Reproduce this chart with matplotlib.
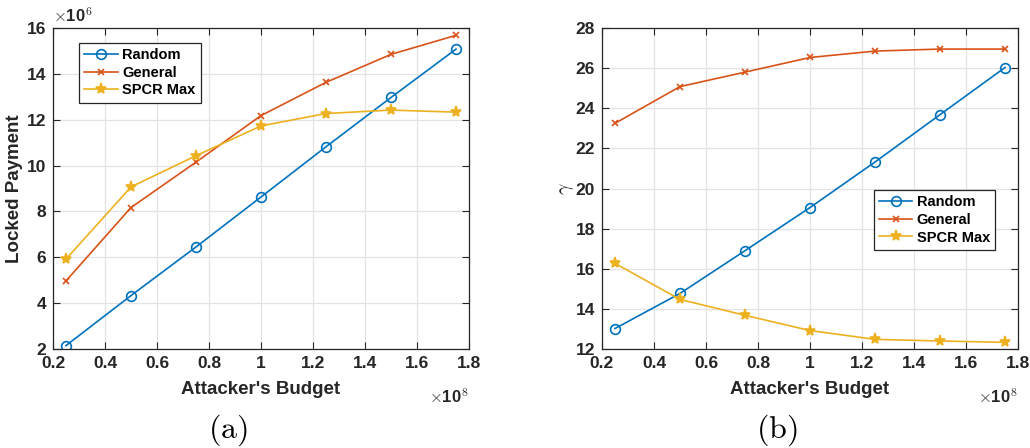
import matplotlib; matplotlib.use("Agg")
import matplotlib.pyplot as plt

budget = [0.25, 0.5, 0.75, 1.0, 1.25, 1.5, 1.75]  # x1e8

locked_random = [2.15, 4.33, 6.45, 8.63, 10.82, 12.97, 15.08]  # x1e6
locked_general = [4.97, 8.17, 10.15, 12.18, 13.63, 14.85, 15.68]
locked_spcr = [5.92, 9.07, 10.43, 11.73, 12.27, 12.42, 12.33]

gamma_random = [13.02, 14.77, 16.9, 19.05, 21.32, 23.68, 26.03]
gamma_general = [23.25, 25.08, 25.8, 26.53, 26.85, 26.95, 26.95]
gamma_spcr = [16.27, 14.47, 13.68, 12.92, 12.48, 12.40, 12.33]

labels = ["Random", "General", "SPCR Max"]
colors = ["#0072BD", "#D95319", "#EDB120"]
markers = ["o", "x", "*"]
msizes = [7, 5, 8]

plt.rcParams["font.family"] = ["Liberation Sans", "DejaVu Sans"]
plt.rcParams["font.weight"] = "bold"
plt.rcParams["mathtext.fontset"] = "cm"

fig = plt.figure(figsize=(10.3, 4.48), dpi=100)
W, H = 1030, 448
ax_a = fig.add_axes([53 / W, 1 - 349 / H, 416 / W, 321 / H])
ax_b = fig.add_axes([602 / W, 1 - 349 / H, 416 / W, 321 / H])


def style(ax, yticks):
    ax.set_xlim(0.2, 1.8)
    ax.set_xticks([0.2, 0.4, 0.6, 0.8, 1, 1.2, 1.4, 1.6, 1.8])
    ax.set_xticklabels(["0.2", "0.4", "0.6", "0.8", "1", "1.2", "1.4", "1.6", "1.8"])
    ax.set_ylim(yticks[0], yticks[-1])
    ax.set_yticks(yticks)
    ax.grid(True, color="#e3e3e3", lw=0.9)
    ax.set_axisbelow(True)
    ax.tick_params(direction="in", top=True, right=True, labelsize=12.5,
                   colors="#262626", length=5, width=0.8, pad=5)
    for lbl in ax.get_xticklabels() + ax.get_yticklabels():
        lbl.set_fontweight("bold")
    for s in ax.spines.values():
        s.set_color("#262626")
        s.set_linewidth(0.9)
    ax.set_xlabel("Attacker's Budget", fontsize=13.5, fontweight="bold",
                  color="#262626", labelpad=7)
    ax.text(1.0, -0.12, r"$\times$10$^8$", transform=ax.transAxes, ha="right",
            va="top", fontsize=12, color="#262626")


def legend(ax, anchor, loc):
    leg = ax.legend(loc=loc, bbox_to_anchor=anchor, fancybox=False,
                    edgecolor="#262626", framealpha=1,
                    prop={"weight": "bold", "size": 10.5},
                    handlelength=2.3, borderpad=0.35, labelspacing=0.25,
                    handletextpad=0.3, borderaxespad=0)
    leg.get_frame().set_linewidth(0.9)


for ys, lab, c, m, ms in zip([locked_random, locked_general, locked_spcr],
                             labels, colors, markers, msizes):
    ax_a.plot(budget, ys, color=c, marker=m, ms=ms, mfc="none" if m == "o" else c,
              mew=1.2, lw=1.2, label=lab)
style(ax_a, [2, 4, 6, 8, 10, 12, 14, 16])
ax_a.set_ylabel("Locked Payment", fontsize=13.5, fontweight="bold", color="#262626")
ax_a.yaxis.set_label_coords(-0.072, 0.5)
ax_a.text(0.0, 1.01, r"$\times$10$^6$", transform=ax_a.transAxes, ha="left",
          va="bottom", fontsize=12, color="#262626")
legend(ax_a, (0.063, 0.953), "upper left")

for ys, lab, c, m, ms in zip([gamma_random, gamma_general, gamma_spcr],
                             labels, colors, markers, msizes):
    ax_b.plot(budget, ys, color=c, marker=m, ms=ms, mfc="none" if m == "o" else c,
              mew=1.2, lw=1.2, label=lab)
style(ax_b, [12, 14, 16, 18, 20, 22, 24, 26, 28])
ax_b.set_ylabel(r"$\gamma$", fontsize=14, color="#262626")
ax_b.yaxis.set_label_coords(-0.062, 0.5)
legend(ax_b, (0.945, 0.495), "upper right")

fig.text(228 / W, 1 - 430 / H, r"$\mathrm{(a)}$", ha="center", va="center", fontsize=23)
fig.text(777 / W, 1 - 430 / H, r"$\mathrm{(b)}$", ha="center", va="center", fontsize=23)

fig.savefig("out.png", dpi=100)
